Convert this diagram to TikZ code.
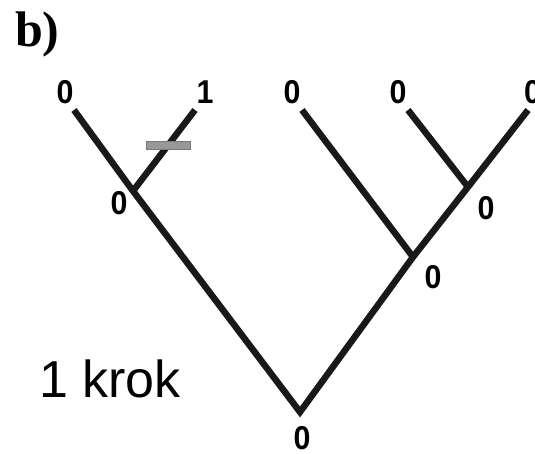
\documentclass[tikz,border=0pt]{standalone}
\usepackage{fontspec}
\setmainfont{Liberation Serif}
\setsansfont{Liberation Sans}
\newfontfamily\statefont{Liberation Sans}[FakeStretch=0.92]
\usepackage{tikz}
\usetikzlibrary{positioning, calc}
\definecolor{markgray}{RGB}{152,152,152}
\definecolor{markedge}{RGB}{120,120,120}
\tikzstyle{branch} = [line width=6.5pt, color=black!90, line join=miter, line cap=butt]
\tikzstyle{state} = [inner sep=0pt, font=\statefont\bfseries\fontsize{33}{33}\selectfont]
\tikzstyle{change} = [rectangle, inner sep=0pt, minimum width=44pt, minimum height=8pt, fill=markgray, draw=markedge, line width=0.6pt]

\begin{document}
\begin{tikzpicture}[x=1pt, y=-1pt]
      \useasboundingbox (0,0) rectangle (535,454);

      % panel letter
      \node[anchor=base west, inner sep=0pt, font=\bfseries\fontsize{50}{50}\selectfont] (panel) at (15,47) {b)};

      % tree points
      \coordinate (leafA) at (74,110);
      \coordinate (leafB) at (195,110);
      \coordinate (leafC) at (302,110);
      \coordinate (leafD) at (408,110);
      \coordinate (leafE) at (528,110);
      \coordinate (nodeAB) at (133,191);
      \coordinate (nodeDE) at (468,187);
      \coordinate (nodeCDE) at (413,257);
      \coordinate (root) at (300,412);

      % branches
      \draw[branch] (leafA) -- (nodeAB) -- (root) -- (nodeCDE) -- (nodeDE) -- (leafE);
      \draw[branch] (leafB) -- (nodeAB);
      \draw[branch] (leafC) -- (nodeCDE);
      \draw[branch] (leafD) -- (nodeDE);

      % state change on the branch to leaf 1
      \path (leafB) -- (nodeAB) node[change, pos=0.43] (step1) {};

      % leaf states
      \node[state] (sA) at ($(leafA)+(-9,-18)$) {0};
      \node[state] (sB) at ($(leafB)+(10,-18)$) {1};
      \node[state] (sC) at ($(leafC)+(-10,-18)$) {0};
      \node[state] (sD) at ($(leafD)+(-10,-18)$) {0};
      \node[state, anchor=west] (sE) at ($(leafE)+(-4,-18)$) {0};

      % inner states
      \node[state] (sAB) at ($(nodeAB)+(-14,12)$) {0};
      \node[state] (sDE) at ($(nodeDE)+(18,21)$) {0};
      \node[state] (sCDE) at ($(nodeCDE)+(20,20)$) {0};
      \node[state] (sRoot) at ($(root)+(2,26)$) {0};

      % number of steps
      \node[anchor=base west, inner sep=0pt, font=\sffamily\fontsize{52}{52}\selectfont] (steps) at (39,397) {1 krok};
    \end{tikzpicture}
\end{document}
